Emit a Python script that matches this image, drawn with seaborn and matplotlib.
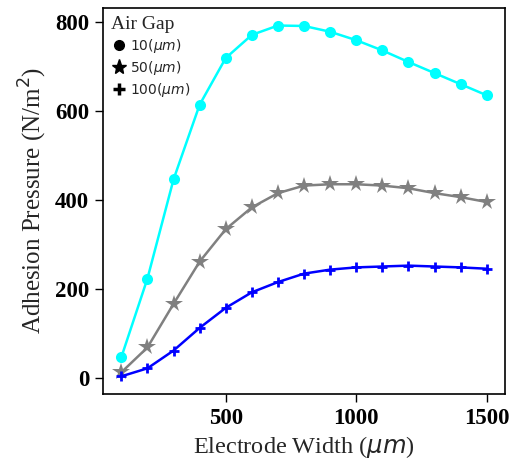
import pandas as pd
import numpy as np
import matplotlib
matplotlib.use("Agg")
import matplotlib.pyplot as plt
from matplotlib.lines import Line2D
import seaborn as sns

# electrode width (um)
width = [100, 200, 300, 400, 500, 600, 700, 800, 900, 1000, 1100, 1200, 1300, 1400, 1500]
# adhesion pressure per air gap
gap_10 = [47, 224, 447, 615, 720, 772, 793, 792, 779, 760, 737, 711, 686, 661, 636]
gap_50 = [13, 69, 167, 262, 335, 384, 416, 433, 436, 436, 433, 427, 416, 407, 396]
gap_100 = [4, 22, 62, 113, 158, 193, 216, 235, 244, 249, 251, 253, 251, 249, 246]

gap_labels = ["10($\\mu m$)", "50($\\mu m$)", "100($\\mu m$)"]

sns.set_style("ticks")

fig = plt.figure(figsize=(5.18, 4.70), dpi=100)
ax = fig.add_axes([0.199, 0.162, 0.776, 0.821])

sns.lineplot(x=width, y=gap_10, ax=ax, color="#00ffff", marker="o", markersize=8,
             markeredgewidth=0, linewidth=1.8, linestyle="-")
sns.lineplot(x=width, y=gap_50, ax=ax, color="gray", marker="*", markersize=13,
             markeredgewidth=0, linewidth=1.8, linestyle="-")
sns.lineplot(x=width, y=gap_100, ax=ax, color="blue", marker="+", markersize=7,
             markeredgewidth=2, markeredgecolor="blue", linewidth=1.8, linestyle="-")

ax.set_xticks([500, 1000, 1500])
ax.set_yticks([0, 200, 400, 600, 800])
for lab in ax.get_xticklabels() + ax.get_yticklabels():
    lab.set_fontfamily("Liberation Serif")
    lab.set_fontweight("bold")
    lab.set_fontsize(16.5)
ax.tick_params(direction="out", length=6, width=1, pad=4, colors="black")
for s in ax.spines.values():
    s.set_color("black")
    s.set_linewidth(1.2)

ax.set_xlabel("Electrode Width ($\\mu m$)", fontfamily="Liberation Serif", fontsize=17.5)
ax.set_ylabel("Adhesion Pressure (N/m$^2$)", fontfamily="Liberation Serif", fontsize=18,
              labelpad=4)

handles = [
    Line2D([], [], color="black", marker="o", linestyle="none", markersize=7),
    Line2D([], [], color="black", marker="*", linestyle="none", markersize=11),
    Line2D([], [], color="black", marker="+", linestyle="none", markersize=9, markeredgewidth=2.5),
]
leg = ax.legend(handles, gap_labels, title="Air Gap", loc="upper left", frameon=False,
                handletextpad=0.2, handlelength=1.2, borderaxespad=0.15, labelspacing=0.3,
                prop={"size": 10})
leg.get_title().set_fontfamily("Liberation Serif")
leg.get_title().set_fontsize(14)
leg._legend_box.align = "left"

fig.savefig("out.png", dpi=100)
